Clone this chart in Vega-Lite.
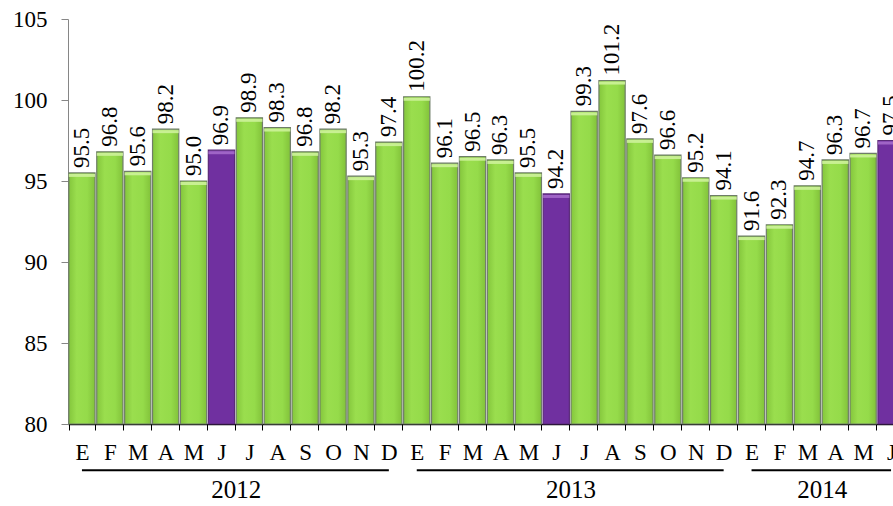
{
  "$schema": "https://vega.github.io/schema/vega-lite/v6.json",
  "background": "white",
  "padding": {"left": 12, "top": 8, "right": 0, "bottom": 0},
  "width": 837,
  "height": 405,
  "config": {
    "font": "Times New Roman, Liberation Serif, serif",
    "view": {"stroke": null},
    "text": {"font": "Times New Roman, Liberation Serif, serif"},
    "axis": {"labelFont": "Liberation Serif", "labelColor": "black", "labelFontSize": 23, "title": null, "grid": false}
  },
  "datasets": {
    "indice": [
      {"periodo": "2012-01", "valor": 95.5}, {"periodo": "2012-02", "valor": 96.8}, {"periodo": "2012-03", "valor": 95.6},
      {"periodo": "2012-04", "valor": 98.2}, {"periodo": "2012-05", "valor": 95.0}, {"periodo": "2012-06", "valor": 96.9},
      {"periodo": "2012-07", "valor": 98.9}, {"periodo": "2012-08", "valor": 98.3}, {"periodo": "2012-09", "valor": 96.8},
      {"periodo": "2012-10", "valor": 98.2}, {"periodo": "2012-11", "valor": 95.3}, {"periodo": "2012-12", "valor": 97.4},
      {"periodo": "2013-01", "valor": 100.2}, {"periodo": "2013-02", "valor": 96.1}, {"periodo": "2013-03", "valor": 96.5},
      {"periodo": "2013-04", "valor": 96.3}, {"periodo": "2013-05", "valor": 95.5}, {"periodo": "2013-06", "valor": 94.2},
      {"periodo": "2013-07", "valor": 99.3}, {"periodo": "2013-08", "valor": 101.2}, {"periodo": "2013-09", "valor": 97.6},
      {"periodo": "2013-10", "valor": 96.6}, {"periodo": "2013-11", "valor": 95.2}, {"periodo": "2013-12", "valor": 94.1},
      {"periodo": "2014-01", "valor": 91.6}, {"periodo": "2014-02", "valor": 92.3}, {"periodo": "2014-03", "valor": 94.7},
      {"periodo": "2014-04", "valor": 96.3}, {"periodo": "2014-05", "valor": 96.7}, {"periodo": "2014-06", "valor": 97.5}
    ],
    "anios": [
      {"anio": "2012", "inicio": "2012-01", "fin": "2012-12", "centro": "2012-07"},
      {"anio": "2013", "inicio": "2013-01", "fin": "2013-12", "centro": "2013-07"},
      {"anio": "2014", "inicio": "2014-01", "fin": "2014-06", "centro": "2014-04"}
    ]
  },
  "layer": [
    {
      "data": {"name": "indice"},
      "transform": [{"filter": "substring(datum.periodo, 5, 7) != '06'"}],
      "mark": {
        "type": "bar",
        "stroke": "#6f7d68",
        "strokeWidth": 1.2,
        "fill": {
          "gradient": "linear", "x1": 0, "x2": 1, "y1": 0, "y2": 0,
          "stops": [
            {"offset": 0, "color": "#84c63c"},
            {"offset": 0.3, "color": "#9ade4e"},
            {"offset": 0.7, "color": "#95db4a"},
            {"offset": 1, "color": "#82c23a"}
          ]
        }
      },
      "encoding": {
        "x": {
          "field": "periodo",
          "type": "ordinal",
          "scale": {
            "domain": ["2012-01","2012-02","2012-03","2012-04","2012-05","2012-06","2012-07","2012-08","2012-09","2012-10","2012-11","2012-12",
                       "2013-01","2013-02","2013-03","2013-04","2013-05","2013-06","2013-07","2013-08","2013-09","2013-10","2013-11","2013-12",
                       "2014-01","2014-02","2014-03","2014-04","2014-05","2014-06"],
            "paddingInner": 0.06,
            "paddingOuter": 0.03
          },
          "axis": {
            "labelAngle": 0,
            "tickBand": "extent",
            "domainColor": "black",
            "domainWidth": 1.5,
            "tickColor": "black",
            "tickSize": 6,
            "labelPadding": 11,
            "labelExpr": "['E','F','M','A','M','J','J','A','S','O','N','D'][toNumber(substring(datum.value, 5, 7)) - 1]"
          }
        },
        "y": {
          "field": "valor",
          "type": "quantitative",
          "scale": {"domain": [80, 105], "zero": false, "nice": false},
          "axis": {
            "values": [80, 85, 90, 95, 100, 105],
            "domainColor": "#868686",
            "tickColor": "#868686",
            "tickSize": 7,
            "labelPadding": 14
          }
        },
        "y2": {"datum": 80}
      }
    },
    {
      "data": {"name": "indice"},
      "transform": [{"filter": "substring(datum.periodo, 5, 7) == '06'"}],
      "mark": {"type": "bar", "fill": "#7030a0", "stroke": "#5a2a78", "strokeWidth": 1.2},
      "encoding": {
        "x": {"field": "periodo", "type": "ordinal"},
        "y": {"field": "valor", "type": "quantitative"},
        "y2": {"datum": 80}
      }
    },
    {
      "data": {"name": "indice"},
      "transform": [{"filter": "substring(datum.periodo, 5, 7) != '06'"}],
      "mark": {"type": "tick", "color": "#cdf29a", "thickness": 3, "yOffset": 2.5, "opacity": 0.9},
      "encoding": {
        "x": {"field": "periodo", "type": "ordinal"},
        "y": {"field": "valor", "type": "quantitative"}
      }
    },
    {
      "data": {"name": "indice"},
      "transform": [{"filter": "substring(datum.periodo, 5, 7) == '06'"}],
      "mark": {"type": "tick", "color": "#b47ad6", "thickness": 3, "yOffset": 2.5},
      "encoding": {
        "x": {"field": "periodo", "type": "ordinal"},
        "y": {"field": "valor", "type": "quantitative"}
      }
    },
    {
      "data": {"name": "indice"},
      "mark": {"type": "text", "font": "Times New Roman, Liberation Serif, serif", "angle": 270, "align": "left", "baseline": "middle", "dx": 5, "fontSize": 23, "color": "black"},
      "encoding": {
        "x": {"field": "periodo", "type": "ordinal"},
        "y": {"field": "valor", "type": "quantitative"},
        "text": {"field": "valor", "type": "quantitative", "format": ".1f"}
      }
    },
    {
      "data": {"name": "anios"},
      "mark": {"type": "rule", "color": "black", "strokeWidth": 2},
      "encoding": {
        "x": {"field": "inicio", "type": "ordinal", "bandPosition": 0.5},
        "x2": {"field": "fin"},
        "y": {"datum": 77.15, "type": "quantitative"}
      }
    },
    {
      "data": {"name": "anios"},
      "mark": {"type": "text", "font": "Liberation Serif", "fontSize": 25, "baseline": "alphabetic", "align": "center", "color": "black"},
      "encoding": {
        "x": {"field": "centro", "type": "ordinal", "bandPosition": 0},
        "y": {"datum": 75.45, "type": "quantitative"},
        "text": {"field": "anio"}
      }
    }
  ]
}
